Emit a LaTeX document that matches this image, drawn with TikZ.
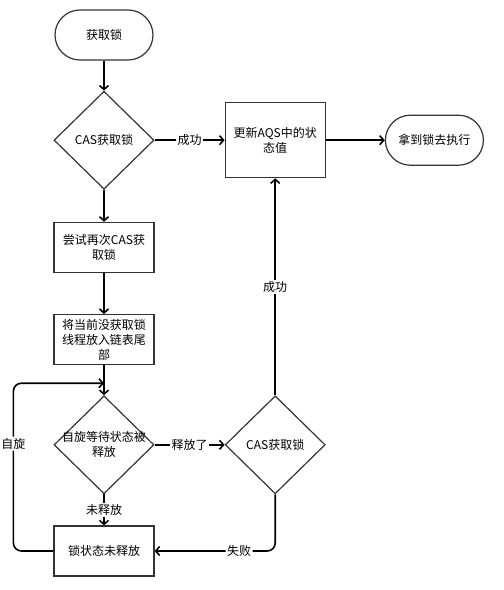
\documentclass[tikz,border=0pt]{standalone}
\usepackage{fontspec}
\setmainfont{Noto Sans CJK SC}
\usetikzlibrary{shapes.geometric, arrows.meta, positioning, calc}

\tikzset{
  terminal/.style={rectangle, draw=black!80, line width=1.2pt, rounded corners=25pt, minimum width=98pt, minimum height=50pt},
  process/.style={rectangle, draw=black!80, line width=1.2pt, align=center, minimum width=100pt, minimum height=50pt, inner sep=2pt},
  decision/.style={diamond, draw=black!80, line width=1.2pt, minimum width=100pt, minimum height=98pt, inner sep=0pt, align=center},
  flow/.style={-{Straight Barb[length=4pt,width=9pt]}, line width=1.6pt},
  tag/.style={fill=white, inner sep=1.5pt}
}

\begin{document}
\begin{tikzpicture}[x=1pt, y=-1pt, font=\fontsize{12}{15}\selectfont]
		\useasboundingbox (0,0) rectangle (504,590);
		\node[terminal] (start) at (104,35) {获取锁};
		\node[decision, below=30pt of start] (cas1) {CAS获取锁};
		\node[process, below=32pt of cas1] (retry) {尝试再次CAS获\\取锁};
		\node[process, below=41pt of retry] (enqueue) {将当前没获取锁\\线程放入链表尾\\部};
		\node[decision, below=30pt of enqueue, label={[align=center]center:自旋等待状态被\\释放}] (wait) {};
		\node[process, below=31pt of wait] (unreleased) {锁状态未释放};
		\node[process, minimum height=75pt, right=70pt of cas1] (update) {更新AQS中的状\\态值};
		\node[terminal, right=59pt of update] (done) {拿到锁去执行};
		\node[decision, right=70pt of wait] (cas2) {CAS获取锁};
		\coordinate[left=40pt of unreleased.west] (spinCorner);
		\coordinate[above=12pt of wait.north] (spinIn);
		\draw[flow] (start) -- (cas1);
		\draw[flow] (cas1) -- node[tag] {成功} (update);
		\draw[flow] (cas1) -- (retry);
		\draw[flow] (retry) -- (enqueue);
		\draw[flow] (enqueue) -- (wait);
		\draw[flow] (wait) -- node[tag] {释放了} (cas2);
		\draw[flow] (wait) -- node[tag] {未释放} (unreleased);
		\draw[flow] (cas2) -- node[tag] {成功} (update);
		\draw[flow] (update) -- (done);
		\draw[flow, rounded corners=8pt] (cas2.south) |- node[tag, pos=0.65] {失败} (unreleased.east);
		\draw[flow, rounded corners=8pt] (unreleased.west) -- (spinCorner) |- node[tag, pos=0.32] {自旋} (spinIn);
\end{tikzpicture}
\end{document}
